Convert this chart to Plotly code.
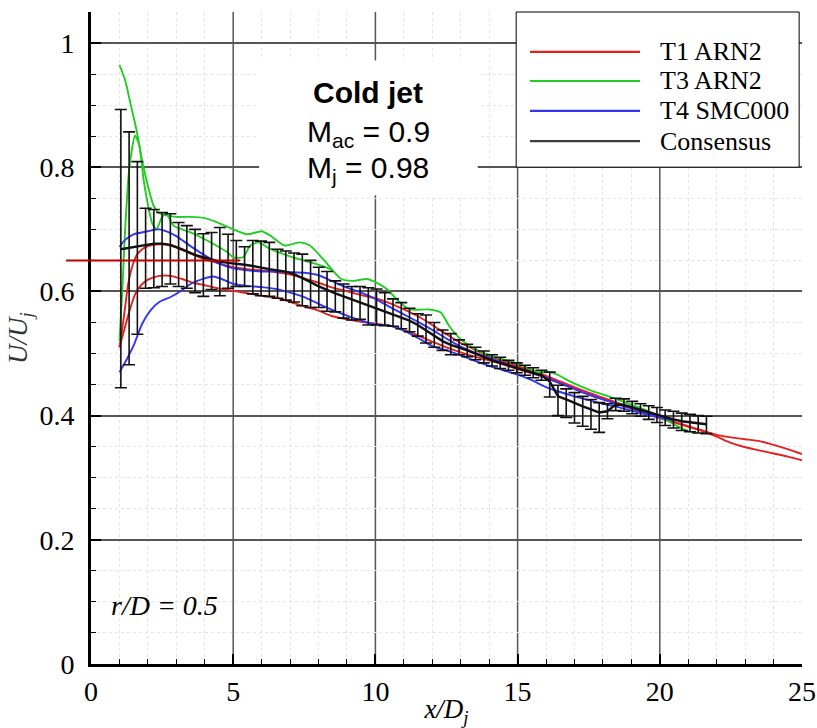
import plotly.graph_objects as go

# ---------------- data ----------------
series_names = ["T1 ARN2", "T3 ARN2", "T4 SMC000", "Consensus"]
series_colors = ["rgb(228,32,32)", "rgb(34,204,34)", "rgb(52,52,245)", "rgb(60,60,60)"]

# T1 ARN2 (two branches)
t1_x_a = [1.0, 1.1, 1.2, 1.3, 1.45, 1.6, 1.8, 2.0, 2.4, 2.8, 3.2, 3.6, 4.0, 4.5, 5.0, 5.5, 6.0, 6.5, 7.0, 7.5,
          8.0, 8.5, 9.0, 9.5, 10.0, 10.5, 11.0, 11.5, 12.0, 12.5, 13.0, 13.5, 14.0, 14.5, 15.0, 15.5, 16.0,
          16.5, 17.0, 17.5, 18.0, 18.5, 19.0, 19.5, 20.0, 20.5, 21.0, 21.5, 22.0, 22.5, 23.0, 23.5, 24.0,
          24.5, 25.0]
t1_y_a = [0.51, 0.54, 0.575, 0.61, 0.64, 0.658, 0.668, 0.673, 0.676, 0.674, 0.667, 0.659, 0.652, 0.645,
          0.639, 0.636, 0.634, 0.631, 0.627, 0.621, 0.614, 0.606, 0.600, 0.594, 0.589, 0.581, 0.571, 0.560,
          0.546, 0.531, 0.517, 0.506, 0.496, 0.488, 0.480, 0.472, 0.464, 0.455, 0.446, 0.437, 0.429, 0.421,
          0.413, 0.405, 0.397, 0.390, 0.383, 0.376, 0.369, 0.365, 0.362, 0.359, 0.353, 0.346, 0.338]
t1_x_b = [1.0, 1.15, 1.3, 1.45, 1.6, 1.8, 2.0, 2.4, 2.8, 3.2, 3.6, 4.0, 4.5, 5.0, 5.5, 6.0, 6.5, 7.0, 7.5,
          8.0, 8.5, 9.0, 9.5, 10.0, 10.5, 11.0, 11.5, 12.0, 12.5, 13.0, 13.5, 14.0, 14.5, 15.0, 15.5, 16.0,
          16.5, 17.0, 17.5, 18.0, 18.5, 19.0, 19.5, 20.0, 20.5, 21.0, 21.5, 22.0, 22.5, 23.0, 23.5, 24.0,
          24.5, 25.0]
t1_y_b = [0.51, 0.535, 0.56, 0.583, 0.600, 0.612, 0.619, 0.625, 0.625, 0.620, 0.614, 0.610, 0.605, 0.601,
          0.597, 0.593, 0.590, 0.583, 0.576, 0.569, 0.560, 0.555, 0.551, 0.548, 0.545, 0.538, 0.529, 0.519,
          0.510, 0.502, 0.495, 0.489, 0.482, 0.475, 0.468, 0.461, 0.452, 0.443, 0.434, 0.426, 0.419, 0.411,
          0.403, 0.396, 0.389, 0.382, 0.375, 0.366, 0.356, 0.349, 0.344, 0.339, 0.334, 0.328]

# T3 ARN2 (two branches)
t3_x_a = [1.0, 1.2, 1.4, 1.6, 1.8, 2.0, 2.2, 2.4, 2.7, 3.0, 3.5, 4.0, 4.5, 5.0, 5.5, 6.0, 6.3, 6.8, 7.35,
          7.7, 8.2, 8.8, 9.2, 9.7, 10.0, 10.4, 10.8, 11.2, 11.9, 12.3, 12.6, 13.0, 13.4, 14.1, 14.7, 15.2,
          15.7, 16.1, 16.4, 16.8, 17.5, 18.2, 18.8, 19.4, 20.0, 20.5, 21.0, 21.3]
t3_y_a = [0.965, 0.94, 0.90, 0.86, 0.81, 0.77, 0.738, 0.726, 0.722, 0.720, 0.720, 0.718, 0.710, 0.700,
          0.692, 0.697, 0.690, 0.674, 0.679, 0.674, 0.650, 0.620, 0.617, 0.620, 0.615, 0.604, 0.585, 0.571,
          0.571, 0.566, 0.544, 0.523, 0.510, 0.496, 0.488, 0.480, 0.470, 0.470, 0.466, 0.456, 0.442, 0.431,
          0.421, 0.411, 0.398, 0.386, 0.375, 0.372]
t3_x_b = [1.0, 1.1, 1.2, 1.35, 1.55, 1.7, 1.85, 2.0, 2.15, 2.3, 2.5, 2.65, 2.9, 3.2, 3.5, 4.0, 4.4, 4.8,
          5.0, 5.35, 5.6, 5.9, 6.2, 6.6, 7.1, 7.7, 8.2, 8.5]
t3_y_b = [0.52, 0.60, 0.70, 0.80, 0.851, 0.835, 0.78, 0.74, 0.71, 0.70, 0.72, 0.725, 0.706, 0.700, 0.695,
          0.684, 0.674, 0.663, 0.655, 0.655, 0.674, 0.679, 0.671, 0.663, 0.655, 0.647, 0.640, 0.634]

# T4 SMC000 (two branches)
t4_x_a = [1.0, 1.2, 1.5, 2.0, 2.4, 2.7, 3.0, 3.5, 4.0, 4.5, 5.0, 5.5, 6.0, 6.5, 7.0, 7.5, 8.0, 8.5, 9.0,
          9.5, 10.0, 10.5, 11.0, 11.5, 12.0, 12.5, 13.0, 13.5, 14.0, 14.5, 15.0, 15.5, 16.0, 16.5, 17.0,
          17.5, 18.0, 18.5, 19.0, 19.5, 20.0, 20.5]
t4_y_a = [0.672, 0.683, 0.692, 0.697, 0.700, 0.696, 0.689, 0.673, 0.658, 0.645, 0.637, 0.634, 0.632, 0.632,
          0.631, 0.630, 0.626, 0.616, 0.606, 0.598, 0.588, 0.575, 0.563, 0.551, 0.538, 0.524, 0.511, 0.501,
          0.493, 0.485, 0.477, 0.469, 0.461, 0.452, 0.443, 0.434, 0.426, 0.419, 0.412, 0.405, 0.399, 0.393]
t4_x_b = [1.0, 1.25, 1.5, 1.8, 2.1, 2.4, 2.8, 3.2, 3.5, 4.0, 4.3, 4.6, 5.0, 5.5, 6.0, 6.5, 7.0, 7.5, 8.0,
          8.5, 9.0, 9.5, 10.0, 10.5, 11.0, 11.5, 12.0, 12.5, 13.0, 13.5, 14.0, 14.5, 15.0, 15.5, 16.0, 16.5,
          17.0, 17.5, 18.0, 18.5, 19.0, 19.5, 20.0, 20.5]
t4_y_b = [0.470, 0.490, 0.513, 0.548, 0.570, 0.583, 0.591, 0.602, 0.612, 0.621, 0.624, 0.620, 0.612, 0.609,
          0.607, 0.604, 0.598, 0.591, 0.580, 0.570, 0.561, 0.553, 0.547, 0.545, 0.537, 0.525, 0.512, 0.505,
          0.497, 0.488, 0.480, 0.473, 0.466, 0.457, 0.446, 0.438, 0.431, 0.425, 0.419, 0.414, 0.408, 0.402,
          0.397, 0.392]

# Consensus with error bars
cons_x = [1.05, 1.34, 1.63, 1.92, 2.21, 2.50, 2.79, 3.08, 3.37, 3.66, 3.95, 4.24, 4.53, 4.82, 5.11, 5.40,
          5.69, 5.98, 6.27, 6.56, 6.85, 7.14, 7.43, 7.72, 8.01, 8.30, 8.59, 8.88, 9.17, 9.46, 9.75, 10.04,
          10.33, 10.62, 10.91, 11.20, 11.49, 11.78, 12.07, 12.36, 12.65, 12.94, 13.23, 13.52, 13.81, 14.10,
          14.39, 14.68, 14.97, 15.26, 15.55, 15.84, 16.13, 16.42, 16.71, 17.00, 17.29, 17.58, 17.87, 18.16,
          18.45, 18.74, 19.03, 19.32, 19.61, 19.90, 20.19, 20.48, 20.77, 21.06, 21.35, 21.64]
cons_y = [0.668, 0.670, 0.672, 0.675, 0.677, 0.677, 0.675, 0.670, 0.664, 0.659, 0.655, 0.651, 0.648, 0.646,
          0.645, 0.643, 0.641, 0.638, 0.636, 0.634, 0.632, 0.628, 0.622, 0.615, 0.608, 0.602, 0.597, 0.592,
          0.587, 0.582, 0.577, 0.572, 0.568, 0.563, 0.557, 0.553, 0.546, 0.537, 0.528, 0.520, 0.514, 0.510,
          0.505, 0.500, 0.494, 0.489, 0.485, 0.481, 0.477, 0.473, 0.469, 0.465, 0.455, 0.431, 0.426, 0.420,
          0.415, 0.410, 0.405, 0.407, 0.418, 0.417, 0.413, 0.409, 0.405, 0.401, 0.397, 0.394, 0.391, 0.389,
          0.387, 0.386]
cons_err_plus = [0.225, 0.187, 0.137, 0.059, 0.055, 0.050, 0.050, 0.041, 0.042, 0.041, 0.038, 0.044, 0.055,
                 0.046, 0.037, 0.029, 0.041, 0.043, 0.043, 0.034, 0.033, 0.034, 0.038, 0.035, 0.031, 0.030,
                 0.020, 0.020, 0.021, 0.026, 0.029, 0.032, 0.030, 0.025, 0.025, 0.020, 0.018, 0.025, 0.022,
                 0.018, 0.018, 0.012, 0.010, 0.010, 0.010, 0.009, 0.009, 0.008, 0.008, 0.008, 0.008, 0.008,
                 0.015, 0.018, 0.017, 0.017, 0.016, 0.016, 0.016, 0.012, 0.010, 0.010, 0.010, 0.010, 0.011,
                 0.012, 0.012, 0.013, 0.013, 0.013, 0.013, 0.013]
cons_err_minus = [0.223, 0.188, 0.141, 0.070, 0.071, 0.069, 0.063, 0.062, 0.059, 0.061, 0.063, 0.048, 0.055,
                  0.041, 0.037, 0.035, 0.045, 0.045, 0.044, 0.045, 0.046, 0.045, 0.045, 0.041, 0.034, 0.034,
                  0.030, 0.035, 0.033, 0.027, 0.031, 0.026, 0.023, 0.019, 0.017, 0.018, 0.018, 0.020, 0.018,
                  0.015, 0.016, 0.012, 0.010, 0.010, 0.009, 0.009, 0.009, 0.008, 0.008, 0.008, 0.008, 0.008,
                  0.025, 0.031, 0.029, 0.032, 0.032, 0.032, 0.032, 0.012, 0.010, 0.010, 0.010, 0.010, 0.011,
                  0.012, 0.013, 0.014, 0.015, 0.015, 0.015, 0.015]

ref_level = 0.65  # red horizontal reference line
x_grid_major = [5, 10, 15, 20]
y_ticks_major = 0.2
jet_lines = ["<b>Cold jet</b>", "M<sub>ac</sub> = 0.9", "M<sub>j</sub> = 0.98"]

# ---------------- figure ----------------
SERIF = "Liberation Serif"
SANS = "Liberation Sans"

fig = go.Figure()

def joined(xa, ya, xb, yb):
    return xa + [None] + xb, ya + [None] + yb

for (xa, ya, xb, yb), name, col in zip(
        [(t1_x_a, t1_y_a, t1_x_b, t1_y_b), (t3_x_a, t3_y_a, t3_x_b, t3_y_b), (t4_x_a, t4_y_a, t4_x_b, t4_y_b)],
        series_names[:3], series_colors[:3]):
    xs, ys = joined(xa, ya, xb, yb)
    fig.add_trace(go.Scatter(x=xs, y=ys, mode="lines", name=name, connectgaps=False,
                             line=dict(color=col, width=1.9, shape="spline", smoothing=0.6)))

fig.add_trace(go.Scatter(
    x=cons_x, y=cons_y, mode="lines", name=series_names[3],
    line=dict(color="#111111", width=2.4),
    error_y=dict(type="data", symmetric=False, array=cons_err_plus, arrayminus=cons_err_minus,
                 color="#111111", thickness=1.6, width=6)))

fig.update_layout(
    width=817, height=728,
    margin=dict(l=91, r=15, t=12, b=64),
    paper_bgcolor="white", plot_bgcolor="white",
    showlegend=False,
)

fig.update_xaxes(
    range=[0, 25], tick0=0, dtick=5, automargin=False,
    showline=True, linecolor="black", linewidth=3,
    ticks="inside", ticklen=10, tickwidth=2, tickcolor="black",
    showgrid=False, zeroline=False,
    minor=dict(dtick=1, ticks="inside", ticklen=5, tickwidth=1, tickcolor="black",
               showgrid=True, gridcolor="#e4e4e4", griddash="dot", gridwidth=1),
    tickfont=dict(family=SERIF, size=28, color="black"),
    title=dict(text="<i>x/D<sub>j</sub></i>", font=dict(family=SERIF, size=27, color="black"), standoff=0),
)
fig.update_yaxes(
    range=[0, 1.05], tick0=0, dtick=y_ticks_major, automargin=False,
    showline=True, linecolor="black", linewidth=3,
    ticks="inside", ticklen=10, tickwidth=2, tickcolor="black",
    showgrid=True, gridcolor="#555555", gridwidth=1.5, zeroline=False,
    minor=dict(dtick=0.05, ticks="inside", ticklen=5, tickwidth=1, tickcolor="black",
               showgrid=True, gridcolor="#e4e4e4", griddash="dot", gridwidth=1),
    tickfont=dict(family=SERIF, size=28, color="black"), ticklabelstandoff=8,
    title=dict(text="<i>U/U<sub>j</sub></i>", font=dict(family=SERIF, size=27, color="#333"), standoff=4),
)

shapes = []
# major vertical grid lines (none at the right edge)
for gx in x_grid_major:
    shapes.append(dict(type="line", xref="x", yref="paper", x0=gx, x1=gx, y0=0, y1=1,
                       line=dict(color="#555555", width=1.5), layer="below"))
# red reference line extending into the margin
shapes.append(dict(type="line", xref="paper", yref="y", x0=-0.035, x1=0.21, y0=ref_level, y1=ref_level,
                   line=dict(color="rgb(190,0,0)", width=2), layer="above"))
# white box behind the jet description
shapes.append(dict(type="rect", xref="x", yref="y", x0=5.91, x1=13.6, y0=0.755, y1=0.972,
                   fillcolor="white", line=dict(width=0), layer="above"))
# legend box
lg_x0, lg_x1, lg_y0, lg_y1 = 0.598, 0.996, 0.762, 1.0
shapes.append(dict(type="rect", xref="paper", yref="paper", x0=lg_x0, x1=lg_x1, y0=lg_y0, y1=lg_y1,
                   fillcolor="white", line=dict(color="black", width=1), layer="above"))
row_y = [0.9387, 0.8942, 0.8482, 0.8021]
for name, col, ry in zip(series_names, series_colors, row_y):
    shapes.append(dict(type="line", xref="paper", yref="paper", x0=0.6174, x1=0.7722, y0=ry, y1=ry,
                       line=dict(color=col, width=2.2), layer="above"))
fig.update_layout(shapes=shapes)

annotations = []
for name, ry in zip(series_names, row_y):
    annotations.append(dict(xref="paper", yref="paper", x=0.7975, y=ry, text=name, showarrow=False,
                            xanchor="left", yanchor="middle",
                            font=dict(family=SERIF, size=26, color="black")))
for txt, ty in zip(jet_lines, [0.920, 0.854, 0.797]):
    annotations.append(dict(xref="x", yref="y", x=9.74, y=ty, text=txt,
                            showarrow=False, xanchor="center", yanchor="middle",
                            font=dict(family=SANS, size=30, color="black")))
annotations.append(dict(xref="x", yref="y", x=0.65, y=0.095, text="<i>r/D = 0.5</i>", showarrow=False,
                        xanchor="left", yanchor="middle", font=dict(family=SERIF, size=28, color="black")))
fig.update_layout(annotations=annotations)

fig.write_html("out.html")
